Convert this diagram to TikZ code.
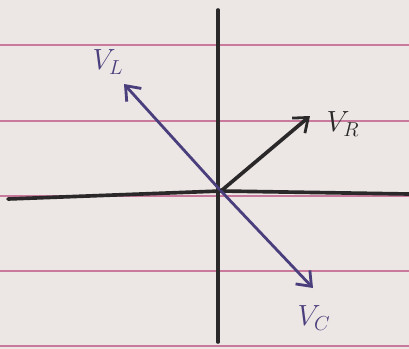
\documentclass[tikz,border=0pt]{standalone}
\usepackage{tikz}
\usetikzlibrary{arrows.meta}
\definecolor{paperBg}{HTML}{ECE7E5}
\definecolor{rulePink}{HTML}{C97A9C}
\definecolor{inkPurple}{HTML}{4A3F7C}
\definecolor{inkBlack}{HTML}{2A2829}
\tikzset{
  ruleline/.style={draw=rulePink, line width=1.1pt},
  axisline/.style={draw=inkBlack, line width=2.6pt, line cap=round},
  phasor/.style={line width=2.0pt, line cap=round,
    -{Straight Barb[length=9pt, width=14pt, line width=2pt]}},
  phasorlabel/.style={font=\huge}
}

\begin{document}
\begin{tikzpicture}[x=0.025cm, y=-0.025cm]
        % paper and ruled lines
        \fill[paperBg] (0,0) rectangle (409,349);
        \useasboundingbox (0,0) rectangle (409,349);
        \foreach \yy in {45,121,196,271,346} {
          \draw[ruleline] (0,\yy) -- (409,\yy);
        }
        % axes
        \coordinate (top) at (218,10);
        \coordinate (bottom) at (218,342);
        \coordinate (left) at (8,199);
        \coordinate (right) at (409,194);
        \coordinate (O) at (221,191);
        \draw[axisline] (top) -- (bottom);
        \draw[axisline] (left) -- (O) -- (right);
        % phasors
        \coordinate (tipL) at (124,84);
        \coordinate (tipR) at (310,116);
        \coordinate (tipC) at (313,288);
        \draw[phasor, draw=inkPurple] (O) -- (tipL);
        \draw[phasor, draw=inkBlack, line width=2.6pt] (O) -- (tipR);
        \draw[phasor, draw=inkPurple] (O) -- (tipC);
        \node[phasorlabel, text=inkPurple] (labL) at (108,62) {$V_L$};
        \node[phasorlabel, text=inkBlack] (labR) at (343,124) {$V_R$};
        \node[phasorlabel, text=inkPurple] (labC) at (314,318) {$V_C$};
      \end{tikzpicture}
\end{document}
